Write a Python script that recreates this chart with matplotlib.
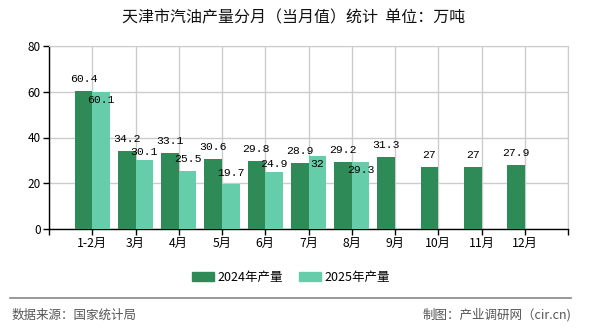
import matplotlib.pyplot as plt
from matplotlib.lines import Line2D
from matplotlib.patches import Patch
import numpy as np

plt.rcParams['font.family'] = ['Noto Sans CJK SC', 'DejaVu Sans']

# Data
months = ["1-2月", "3月", "4月", "5月", "6月", "7月", "8月", "9月", "10月", "11月", "12月"]
output_2024 = [60.4, 34.2, 33.1, 30.6, 29.8, 28.9, 29.2, 31.3, 27, 27, 27.9]
output_2025 = [60.1, 30.1, 25.5, 19.7, 24.9, 32, 29.3]
series_names = ["2024年产量", "2025年产量"]

# Label offsets (px) of the 2025 values: positive = above bar top
label_dy_2025 = [-8, 8, 12, 11, 8, -8, -8]

color_2024 = "#2e8b57"
color_2025 = "#66cdaa"


def main():
    fig = plt.figure(figsize=(5.9, 3.3), dpi=100)
    ax = fig.add_axes([49 / 590, 1 - 229 / 330, 519 / 590, 183 / 330])

    x = np.arange(len(months))
    bar_w = 0.41

    ax.bar(x[:len(output_2024)], output_2024, width=-bar_w, align="edge",
           color=color_2024, zorder=3)
    ax.bar(x[:len(output_2025)], output_2025, width=bar_w, align="edge",
           color=color_2025, zorder=3)

    # Value labels
    px = 72 / 100
    for xi, v in zip(x, output_2024):
        ax.annotate(f"{v:g}", (xi - bar_w / 2, v), xytext=(0, 12 * px),
                    textcoords="offset points", ha="center", va="center",
                    fontsize=8.2, family="Liberation Mono", zorder=5)
    for xi, v, dy in zip(x, output_2025, label_dy_2025):
        ax.annotate(f"{v:g}", (xi + bar_w / 2, v), xytext=(0, dy * px),
                    textcoords="offset points", ha="center", va="center",
                    fontsize=8.2, family="Liberation Mono", zorder=5)

    # Axes and grid
    ax.set_xlim(-1, len(months))
    ax.set_ylim(0, 80)
    ax.set_yticks([0, 20, 40, 60, 80])
    ax.set_xticks(np.arange(-1, len(months) + 1))
    ax.set_xticklabels([""] + months + [""])
    ax.tick_params(axis="x", length=4, width=1, labelsize=8.8, pad=2, colors="black")
    ax.tick_params(axis="y", length=4, width=1, labelsize=8.5, pad=2)
    ax.grid(True, color="#cccccc", linewidth=1, zorder=0)
    ax.set_axisbelow(True)
    for side in ["top", "right"]:
        ax.spines[side].set_color("#cccccc")
    for side in ["left", "bottom"]:
        ax.spines[side].set_color("black")
        ax.spines[side].set_linewidth(1)

    # Title
    fig.text(294 / 590, 1 - 18 / 330, "天津市汽油产量分月（当月值）统计  单位：万吨",
             ha="center", va="center", fontsize=11.5, color="#111111")

    # Legend
    handles = [Patch(color=color_2024), Patch(color=color_2025)]
    fig.legend(handles, series_names, loc="center", bbox_to_anchor=(291 / 590, 1 - 277 / 330),
               ncol=2, frameon=False, fontsize=9, handlelength=1.75, handleheight=0.7,
               handletextpad=0.3, columnspacing=1.3)

    # Footer
    fig.add_artist(Line2D([10 / 590, 571 / 590], [1 - 297.5 / 330, 1 - 297.5 / 330],
                          color="#888888", linewidth=1.2))
    fig.text(12 / 590, 1 - 315 / 330, "数据来源：国家统计局", ha="left", va="center",
             fontsize=9, color="#555555")
    fig.text(571 / 590, 1 - 315 / 330, "制图：产业调研网（cir.cn)", ha="right", va="center",
             fontsize=9, color="#555555")

    fig.savefig("out.png", dpi=100)


if __name__ == "__main__":
    main()
